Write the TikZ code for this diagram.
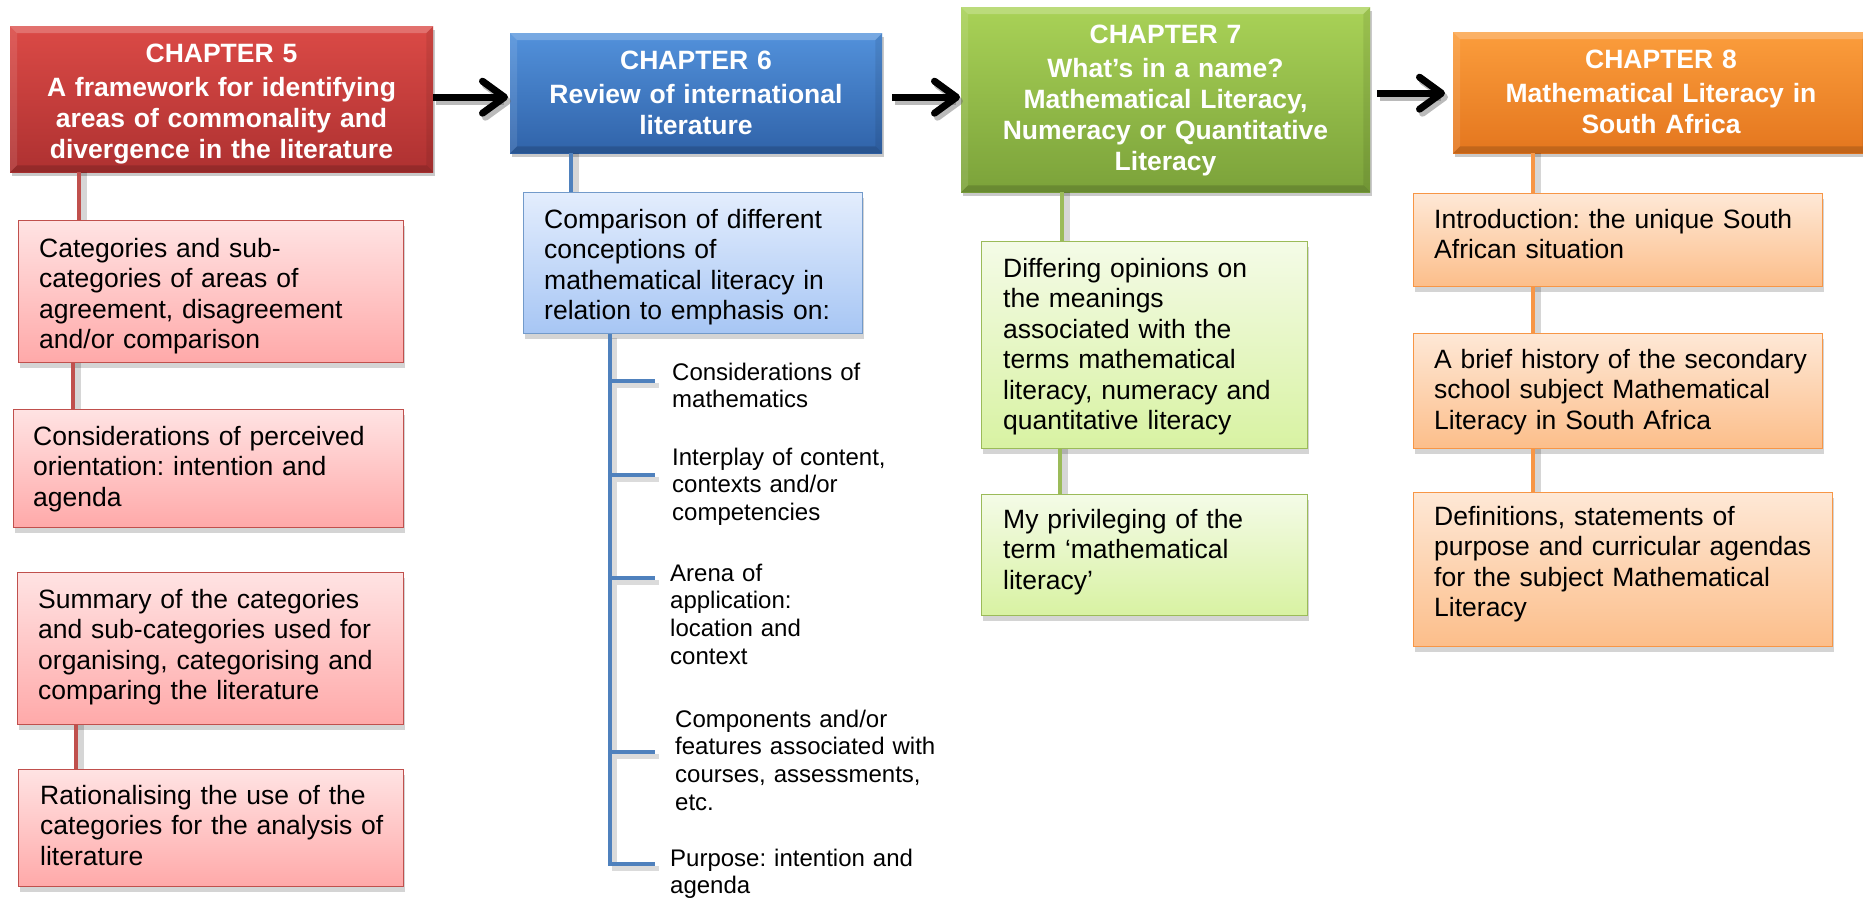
\documentclass[tikz,border=0pt]{standalone}
\usepackage{fontspec}
\setmainfont{Liberation Sans}
\usetikzlibrary{arrows.meta,shadows}
\frenchspacing

% chapter header colours
\definecolor{redTop}{HTML}{DB4A46}
\definecolor{redBot}{HTML}{AE3131}
\definecolor{blueTop}{HTML}{5291DB}
\definecolor{blueBot}{HTML}{3063A9}
\definecolor{greenTop}{HTML}{A9D257}
\definecolor{greenBot}{HTML}{7BA23A}
\definecolor{orangeTop}{HTML}{FB9D3C}
\definecolor{orangeBot}{HTML}{E4761E}
% sub-box colours
\definecolor{redLite}{HTML}{FFE3E3}
\definecolor{redMid}{HTML}{FFA9A9}
\definecolor{redLine}{HTML}{C0504D}
\definecolor{blueLite}{HTML}{E3EDFD}
\definecolor{blueMid}{HTML}{A7C6F4}
\definecolor{blueLine}{HTML}{4F81BD}
\definecolor{greenLite}{HTML}{F4FBE7}
\definecolor{greenMid}{HTML}{D8F2A2}
\definecolor{greenLine}{HTML}{9BBB59}
\definecolor{orangeLite}{HTML}{FEE8D6}
\definecolor{orangeMid}{HTML}{FCBE8A}
\definecolor{orangeLine}{HTML}{F79646}

\tikzset{
  box/.style={rectangle, inner sep=0pt, anchor=north west},
  chap/.style={box, drop shadow={shadow xshift=2pt, shadow yshift=-4pt, opacity=.35, fill=black!60}},
  sub/.style={box, line width=1.3pt, drop shadow={shadow xshift=1pt, shadow yshift=-5pt, opacity=.28, fill=black!60}},
  chaptext/.style={anchor=base, inner sep=0pt, text=white, align=center, font=\bfseries\fontsize{26.5}{31}\selectfont},
  subtext/.style={anchor=base west, inner sep=0pt, align=left, text width=400pt, font=\fontsize{26.5}{30.5}\selectfont},
  itemtext/.style={anchor=base west, inner sep=0pt, align=left, text width=300pt, font=\fontsize{24}{27.7}\selectfont},
  link/.style={line width=4.5pt},
  linkshadow/.style={line width=6pt, black, opacity=.16, transform canvas={shift={(5pt,0pt)}}},
  bigarrow/.style={line width=7pt, -{Straight Barb[length=22pt, width=32pt, round]}},
  arrowshadow/.style={bigarrow, black!60, opacity=.45, transform canvas={shift={(3pt,-4pt)}}},
}

% light and dark bevel strips along the edges of a chapter box
\newcommand\chapbevel[1]{%
  \fill[white,opacity=.22] (#1.north west) -- (#1.north east) -- ([shift={(-7pt,-7pt)}]#1.north east) -- ([shift={(7pt,-7pt)}]#1.north west) -- cycle;
  \fill[white,opacity=.10] (#1.north west) -- ([shift={(7pt,-7pt)}]#1.north west) -- ([shift={(7pt,7pt)}]#1.south west) -- (#1.south west) -- cycle;
  \fill[black,opacity=.15] (#1.south west) -- (#1.south east) -- ([shift={(-7pt,7pt)}]#1.south east) -- ([shift={(7pt,7pt)}]#1.south west) -- cycle;
  \fill[black,opacity=.08] (#1.north east) -- ([shift={(-7pt,-7pt)}]#1.north east) -- ([shift={(-7pt,7pt)}]#1.south east) -- (#1.south east) -- cycle;
}

\begin{document}
\begin{tikzpicture}[x=1pt, y=-1pt]
\fill[white] (0,0) rectangle (1863,897);
\useasboundingbox (0,0) rectangle (1863,897);

% ---------- chapter boxes ----------
\node[chap, top color=redTop, bottom color=redBot, minimum width=423pt, minimum height=146pt] (c5) at (10,26) {};
\node[chap, top color=blueTop, bottom color=blueBot, minimum width=372pt, minimum height=120pt] (c6) at (510,33) {};
\node[chap, top color=greenTop, bottom color=greenBot, minimum width=409pt, minimum height=185pt] (c7) at (961,7) {};
\node[chap, top color=orangeTop, bottom color=orangeBot, minimum width=416pt, minimum height=121pt] (c8) at (1453,32) {};
\chapbevel{c5}
\chapbevel{c6}
\chapbevel{c7}
\chapbevel{c8}

% ---------- sub-boxes ----------
\node[sub, draw=redLine, top color=redLite, bottom color=redMid, minimum width=385pt, minimum height=142pt] (s5a) at (18,220) {};
\node[sub, draw=redLine, top color=redLite, bottom color=redMid, minimum width=390pt, minimum height=118pt] (s5b) at (13,409) {};
\node[sub, draw=redLine, top color=redLite, bottom color=redMid, minimum width=386pt, minimum height=152pt] (s5c) at (17,572) {};
\node[sub, draw=redLine, top color=redLite, bottom color=redMid, minimum width=385pt, minimum height=117pt] (s5d) at (18,769) {};
\node[sub, draw=blueLine!80, top color=blueLite, bottom color=blueMid, minimum width=339pt, minimum height=141pt] (s6) at (523,192) {};
\node[sub, draw=greenLine, top color=greenLite, bottom color=greenMid, minimum width=326pt, minimum height=207pt] (s7a) at (981,241) {};
\node[sub, draw=greenLine, top color=greenLite, bottom color=greenMid, minimum width=326pt, minimum height=121pt] (s7b) at (981,494) {};
\node[sub, draw=orangeLine, top color=orangeLite, bottom color=orangeMid, minimum width=409pt, minimum height=93pt] (s8a) at (1413,193) {};
\node[sub, draw=orangeLine, top color=orangeLite, bottom color=orangeMid, minimum width=409pt, minimum height=115pt] (s8b) at (1413,333) {};
\node[sub, draw=orangeLine, top color=orangeLite, bottom color=orangeMid, minimum width=419pt, minimum height=154pt] (s8c) at (1413,492) {};

% ---------- vertical connectors ----------
\foreach \a/\b/\sa/\sb in {c5/s5a/69/61, s5a/s5b/55/60, s5c/s5d/59/58}{
  \draw[linkshadow] ([xshift=\sa pt]\a.south west) -- ([xshift=\sb pt]\b.north west);
  \draw[link, redLine] ([xshift=\sa pt]\a.south west) -- ([xshift=\sb pt]\b.north west);
}
\draw[linkshadow] ([xshift=61pt]c6.south west) -- ([xshift=48pt]s6.north west);
\draw[link, blueLine] ([xshift=61pt]c6.south west) -- ([xshift=48pt]s6.north west);
\foreach \a/\b/\sa/\sb in {c7/s7a/101/81, s7a/s7b/79/79}{
  \draw[linkshadow] ([xshift=\sa pt]\a.south west) -- ([xshift=\sb pt]\b.north west);
  \draw[link, greenLine] ([xshift=\sa pt]\a.south west) -- ([xshift=\sb pt]\b.north west);
}
\foreach \a/\b/\sa/\sb in {c8/s8a/80/120, s8a/s8b/120/120, s8b/s8c/120/120}{
  \draw[linkshadow] ([xshift=\sa pt]\a.south west) -- ([xshift=\sb pt]\b.north west);
  \draw[link, orangeLine] ([xshift=\sa pt]\a.south west) -- ([xshift=\sb pt]\b.north west);
}

% ---------- emphasis list under chapter 6 ----------
\coordinate (tt) at ([xshift=87pt]s6.south west);
\coordinate (b1) at (655,381);
\coordinate (b2) at (655,475);
\coordinate (b3) at (655,578);
\coordinate (b4) at (655,752);
\coordinate (b5) at (655,864);
\draw[line width=5pt, black, opacity=.14, transform canvas={shift={(4pt,-4pt)}}]
  (tt) |- (b5) (tt |- b1) -- (b1) (tt |- b2) -- (b2) (tt |- b3) -- (b3) (tt |- b4) -- (b4);
\draw[line width=4pt, blueLine] (tt) |- (b5);
\foreach \b in {b1,b2,b3,b4}{
  \draw[line width=4pt, blueLine] (tt |- \b) -- (\b);
}

\node[itemtext] (t1) at (672,380) {Considerations of\\mathematics};
\node[itemtext] (t2) at (672,465) {Interplay of content,\\contexts and/or\\competencies};
\node[itemtext] (t3) at (670,581) {Arena of\\application:\\location and\\context};
\node[itemtext] (t4) at (675,727) {Components and/or\\features associated with\\courses, assessments,\\etc.};
\node[itemtext] (t5) at (670,866) {Purpose: intention and\\agenda};

% ---------- arrows between chapters ----------
\draw[arrowshadow, shorten >=2pt] ([yshift=2pt]c5.east) -- ([yshift=2pt]c5.east -| c6.west);
\draw[bigarrow, shorten >=2pt] ([yshift=2pt]c5.east) -- ([yshift=2pt]c5.east -| c6.west);
\draw[arrowshadow, shorten <=10pt, shorten >=1pt] ([yshift=-4pt]c6.east) -- ([yshift=-4pt]c6.east -| c7.west);
\draw[bigarrow, shorten <=10pt, shorten >=1pt] ([yshift=-4pt]c6.east) -- ([yshift=-4pt]c6.east -| c7.west);
\draw[arrowshadow, shorten <=7pt, shorten >=8pt] ([yshift=6.5pt]c7.east) -- ([yshift=6.5pt]c7.east -| c8.west);
\draw[bigarrow, shorten <=7pt, shorten >=8pt] ([yshift=6.5pt]c7.east) -- ([yshift=6.5pt]c7.east -| c8.west);

% ---------- chapter titles ----------
\node[chaptext, text width=423pt] (h5) at (221.5,62) {CHAPTER 5\\[3.5pt]A framework for identifying\\areas of commonality and\\divergence in the literature};
\node[chaptext, text width=372pt] (h6) at (696,69) {CHAPTER 6\\[3.5pt]Review of international\\literature};
\node[chaptext, text width=409pt] (h7) at (1165.5,43) {CHAPTER 7\\[3.5pt]What’s in a name?\\Mathematical Literacy,\\Numeracy or Quantitative\\Literacy};
\node[chaptext, text width=416pt] (h8) at (1661,68) {CHAPTER 8\\[3.5pt]Mathematical Literacy in\\South Africa};

% ---------- sub-box texts ----------
\node[subtext] (x5a) at (39,257) {Categories and sub-\\categories of areas of\\agreement, disagreement\\and/or comparison};
\node[subtext] (x5b) at (33,445) {Considerations of perceived\\orientation: intention and\\agenda};
\node[subtext] (x5c) at (38,608) {Summary of the categories\\and sub-categories used for\\organising, categorising and\\comparing the literature};
\node[subtext] (x5d) at (40,804) {Rationalising the use of the\\categories for the analysis of\\literature};
\node[subtext] (x6) at (544,228) {Comparison of different\\conceptions of\\mathematical literacy in\\relation to emphasis on:};
\node[subtext] (x7a) at (1003,277) {Differing opinions on\\the meanings\\associated with the\\terms mathematical\\literacy, numeracy and\\quantitative literacy};
\node[subtext] (x7b) at (1003,528) {My privileging of the\\term ‘mathematical\\literacy’};
\node[subtext] (x8a) at (1434,228) {Introduction: the unique South\\African situation};
\node[subtext] (x8b) at (1434,368) {A brief history of the secondary\\school subject Mathematical\\Literacy in South Africa};
\node[subtext] (x8c) at (1434,525) {Definitions, statements of\\purpose and curricular agendas\\for the subject Mathematical\\Literacy};
\end{tikzpicture}
\end{document}
